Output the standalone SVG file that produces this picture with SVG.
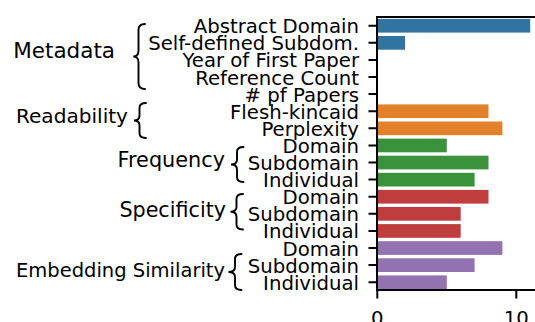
<svg xmlns="http://www.w3.org/2000/svg" width="535" height="322" viewBox="0 0 535 322">
<style>
text{font-family:"DejaVu Sans","Liberation Sans",sans-serif;fill:#000}
.tl{font-size:19.7px;text-anchor:end}
.gl{font-size:20.5px;text-anchor:end}
.xl{font-size:19.7px;text-anchor:middle}
.brace{fill:none;stroke:#000;stroke-width:1.9;stroke-linecap:round}
.tick{stroke:#000;stroke-width:2}
.spine{stroke:#000;stroke-width:2;fill:none}
.b0{fill:#3274a1}.b1{fill:#e1812c}.b2{fill:#3a923a}.b3{fill:#c03d3e}.b4{fill:#9372b2}
</style>
<rect width="535" height="322" fill="#fff"/>
<g id="bars">
<rect class="b0" x="377.3" y="18.9" width="152.9" height="13.7"/>
<rect class="b0" x="377.3" y="36" width="27.8" height="13.7"/>
<rect class="b1" x="377.3" y="104.4" width="111.2" height="13.7"/>
<rect class="b1" x="377.3" y="121.5" width="125.1" height="13.7"/>
<rect class="b2" x="377.3" y="138.6" width="69.5" height="13.7"/>
<rect class="b2" x="377.3" y="155.7" width="111.2" height="13.7"/>
<rect class="b2" x="377.3" y="172.8" width="97.3" height="13.7"/>
<rect class="b3" x="377.3" y="189.9" width="111.2" height="13.7"/>
<rect class="b3" x="377.3" y="207" width="83.4" height="13.7"/>
<rect class="b3" x="377.3" y="224.1" width="83.4" height="13.7"/>
<rect class="b4" x="377.3" y="241.2" width="125.1" height="13.7"/>
<rect class="b4" x="377.3" y="258.3" width="97.3" height="13.7"/>
<rect class="b4" x="377.3" y="275.4" width="69.5" height="13.7"/>
</g>
<g id="axes">
<path class="spine" d="M377 17V290M376 17H535M376 290H535"/>
<path class="tick" d="M368.5 25.7H377M368.5 42.8H377M368.5 59.9H377M368.5 77H377M368.5 94.1H377M368.5 111.2H377M368.5 128.3H377M368.5 145.4H377M368.5 162.5H377M368.5 179.6H377M368.5 196.7H377M368.5 213.8H377M368.5 230.9H377M368.5 248H377M368.5 265.1H377M368.5 282.2H377M377.3 290V298.5M516.3 290V298.5"/>
<text class="xl" x="377.3" y="324.5">0</text>
<text class="xl" x="516.3" y="324.5">10</text>
</g>
<g id="ticklabels">
<text class="tl" x="359" y="33.2">Abstract Domain</text>
<text class="tl" x="359" y="50.3">Self-defined Subdom.</text>
<text class="tl" x="359" y="67.4">Year of First Paper</text>
<text class="tl" x="359" y="84.5">Reference Count</text>
<text class="tl" x="359" y="101.6"># pf Papers</text>
<text class="tl" x="359" y="118.7">Flesh-kincaid</text>
<text class="tl" x="359" y="135.8">Perplexity</text>
<text class="tl" x="359" y="152.9">Domain</text>
<text class="tl" x="359" y="170">Subdomain</text>
<text class="tl" x="359" y="187.1">Individual</text>
<text class="tl" x="359" y="204.2">Domain</text>
<text class="tl" x="359" y="221.3">Subdomain</text>
<text class="tl" x="359" y="238.4">Individual</text>
<text class="tl" x="359" y="255.5">Domain</text>
<text class="tl" x="359" y="272.6">Subdomain</text>
<text class="tl" x="359" y="289.7">Individual</text>
</g>
<g id="metadata">
<text class="gl" x="115" y="58.3" style="font-size:21.5px">Metadata</text>
<path class="brace" d="M145 24Q138.5 24 138.5 30V50.5Q138.5 56.5 133.3 56.5Q138.5 56.5 138.5 62.5V83Q138.5 89 145 89"/>
</g>
<g id="readability">
<text class="gl" x="128" y="122.7" style="font-size:20.1px">Readability</text>
<path class="brace" d="M146 103Q139.5 103 139.5 108V115.5Q139.5 120.5 134 120.5Q139.5 120.5 139.5 125.5V133Q139.5 138 146 138"/>
</g>
<g id="frequency">
<text class="gl" x="225" y="166.7" style="font-size:20.8px">Frequency</text>
<path class="brace" d="M243.5 147Q237 147 237 152V159.5Q237 164.5 231 164.5Q237 164.5 237 169.5V177Q237 182 243.5 182"/>
</g>
<g id="specificity">
<text class="gl" x="226" y="216.7" style="font-size:20.7px">Specificity</text>
<path class="brace" d="M243 194Q236.5 194 236.5 199V206.7Q236.5 211.7 230.5 211.7Q236.5 211.7 236.5 216.7V224.5Q236.5 229.5 243 229.5"/>
</g>
<g id="embedding">
<text class="gl" x="225" y="276.7" style="font-size:19.5px">Embedding Similarity</text>
<path class="brace" d="M241.5 254Q235 254 235 259V267Q235 272 228.5 272Q235 272 235 277V285Q235 290 241.5 290"/>
</g>
</svg>
